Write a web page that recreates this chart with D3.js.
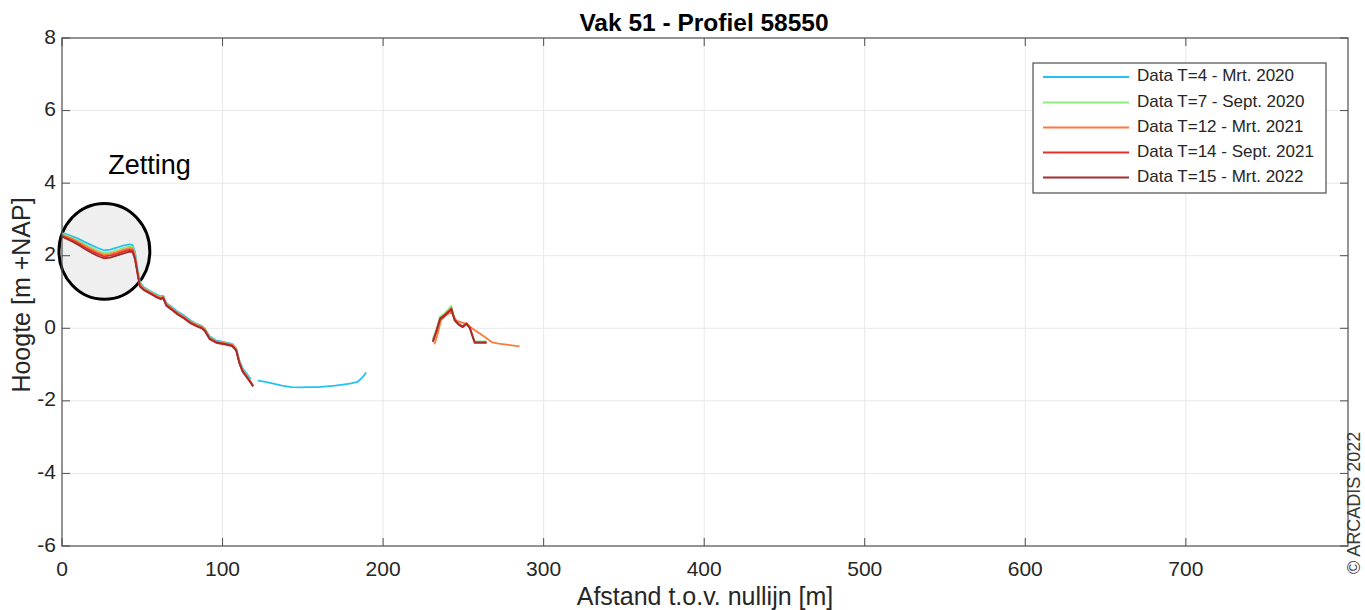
<!DOCTYPE html>
<html>
<head>
<meta charset="utf-8">
<script src="https://cdn.jsdelivr.net/npm/d3@7"></script>
<style>
  html, body { margin: 0; padding: 0; background: #fff; }
  svg { display: block; font-family: "Liberation Sans", Arial, sans-serif; }
</style>
</head>
<body>
<svg id="chart" width="1365" height="610"></svg>
<script>
// Profile measurements: distance from the zero line [m] and height [m +NAP].
// null marks a gap between measured stretches.
const xTicks = [0, 100, 200, 300, 400, 500, 600, 700];
const yTicks = [-6, -4, -2, 0, 2, 4, 6, 8];

const seriesNames = [
  "Data T=4 - Mrt. 2020",
  "Data T=7 - Sept. 2020",
  "Data T=12 - Mrt. 2021",
  "Data T=14 - Sept. 2021",
  "Data T=15 - Mrt. 2022"
];
const seriesColors = ["#22c3f3", "#8fea7f", "#fb7a3c", "#e2302a", "#a32c2c"];

// Dike section, shared distances
const dikeX = [0, 2, 6, 10, 14, 18, 22, 26, 30, 34, 38, 42, 44, 45.5, 47, 48.5, 51, 55, 59, 61.5, 63, 65, 68, 72, 76, 80, 84, 87, 89, 92, 96, 101, 106, 108.5, 110.5, 112.5, 115, 117.5, 119];

// T=4 (Mrt. 2020)
const t4X = dikeX.slice(0, 38).concat([null, 122, 126, 131, 137, 143, 148, 153, 159, 165, 170, 175, 180, 184, 187, 189.5]);
const t4Y = [2.62, 2.60, 2.54, 2.47, 2.38, 2.30, 2.22, 2.15, 2.17, 2.22, 2.28, 2.31, 2.29, 2.10, 1.66, 1.27, 1.13, 1.03, 0.93, 0.88, 0.90, 0.70, 0.60, 0.46, 0.35, 0.22, 0.12, 0.07, -0.01, -0.22, -0.33, -0.38, -0.43, -0.55, -0.88, -1.10, -1.25, -1.40,
  null, -1.44, -1.47, -1.52, -1.58, -1.62, -1.63, -1.62, -1.62, -1.60, -1.58, -1.55, -1.52, -1.48, -1.36, -1.22];

// T=7 (Sept. 2020)
const t7X = dikeX.concat([null, 231, 233, 235.5, 238, 241, 242.5, 244.5, 247, 249.5, 252, 254, 257, 261, 264.5]);
const t7Y = [2.60, 2.57, 2.50, 2.42, 2.32, 2.24, 2.15, 2.08, 2.10, 2.15, 2.21, 2.25, 2.24, 2.02, 1.60, 1.22, 1.10, 1.01, 0.90, 0.85, 0.88, 0.67, 0.57, 0.43, 0.32, 0.19, 0.10, 0.05, -0.03, -0.25, -0.36, -0.40, -0.45, -0.58, -0.92, -1.15, -1.30, -1.47, -1.62,
  null, -0.30, -0.04, 0.32, 0.40, 0.54, 0.62, 0.28, 0.15, 0.06, 0.15, 0.03, -0.36, -0.36, -0.36];

// T=12 (Mrt. 2021)
const t12X = dikeX.concat([null, 232, 234, 236, 239, 242.5, 245.5, 250, 252, 256, 260, 264, 268, 272, 277, 285]);
const t12Y = [2.57, 2.54, 2.47, 2.38, 2.28, 2.19, 2.10, 2.03, 2.05, 2.10, 2.16, 2.21, 2.20, 1.98, 1.57, 1.20, 1.09, 0.99, 0.89, 0.84, 0.87, 0.66, 0.56, 0.42, 0.31, 0.18, 0.09, 0.04, -0.04, -0.27, -0.37, -0.41, -0.46, -0.59, -0.93, -1.16, -1.31, -1.47, -1.57,
  null, -0.44, -0.16, 0.22, 0.35, 0.45, 0.21, 0.15, 0.11, -0.02, -0.14, -0.26, -0.39, -0.42, -0.45, -0.50];

// T=14 (Sept. 2021)
const t14X = dikeX.concat([null, 231, 233, 235.5, 238, 241, 242.5, 244.5, 247, 249.5, 252, 254, 257, 261, 264.5]);
const t14Y = [2.55, 2.51, 2.43, 2.34, 2.23, 2.14, 2.05, 1.98, 2.00, 2.05, 2.11, 2.16, 2.15, 1.93, 1.54, 1.17, 1.07, 0.97, 0.87, 0.82, 0.85, 0.64, 0.54, 0.40, 0.29, 0.16, 0.07, 0.02, -0.06, -0.28, -0.38, -0.42, -0.47, -0.60, -0.95, -1.18, -1.33, -1.49, -1.59,
  null, -0.35, -0.10, 0.28, 0.36, 0.48, 0.55, 0.25, 0.12, 0.05, 0.14, 0.02, -0.38, -0.38, -0.38];

// T=15 (Mrt. 2022)
const t15X = dikeX.concat([null, 231, 233, 235.5, 238, 241, 242.5, 244.5, 247, 249.5, 252, 254, 257, 261, 264.5]);
const t15Y = [2.53, 2.48, 2.40, 2.30, 2.19, 2.09, 2.00, 1.93, 1.95, 2.00, 2.06, 2.11, 2.10, 1.89, 1.51, 1.15, 1.05, 0.95, 0.85, 0.80, 0.83, 0.62, 0.52, 0.38, 0.27, 0.14, 0.05, 0.00, -0.08, -0.30, -0.40, -0.44, -0.49, -0.62, -0.97, -1.20, -1.35, -1.50, -1.60,
  null, -0.38, -0.12, 0.25, 0.33, 0.46, 0.52, 0.22, 0.10, 0.03, 0.12, 0.00, -0.40, -0.40, -0.40];

const seriesX = [t4X, t7X, t12X, t14X, t15X];
const seriesY = [t4Y, t7Y, t12Y, t14Y, t15Y];

// Settlement annotation (centre in data units)
const zettingCenter = [26.4, 2.12];
const zettingRadius = [28.3, 1.32];
const zettingLabel = "Zetting";
const zettingLabelPos = [54.5, 4.45];

const svg = d3.select("#chart");
const margin = { left: 62, top: 38, right: 1348, bottom: 546 };

const x = d3.scaleLinear().domain([0, 801]).range([margin.left, margin.right]);
const y = d3.scaleLinear().domain([-6, 8]).range([margin.bottom, margin.top]);

const axisColor = "#4d4d4d";
const textColor = "#262626";

// Grid
const grid = svg.append("g");
grid.selectAll("line.vx").data(xTicks.slice(1)).join("line")
  .attr("x1", d => x(d)).attr("x2", d => x(d))
  .attr("y1", margin.top).attr("y2", margin.bottom)
  .attr("stroke", "#e8e8e8").attr("stroke-width", 1);
grid.selectAll("line.hy").data(yTicks.slice(1, -1)).join("line")
  .attr("x1", margin.left).attr("x2", margin.right)
  .attr("y1", d => y(d)).attr("y2", d => y(d))
  .attr("stroke", "#e8e8e8").attr("stroke-width", 1);

// Annotation circle behind the data
svg.append("ellipse")
  .attr("cx", x(zettingCenter[0])).attr("cy", y(zettingCenter[1]))
  .attr("rx", x(zettingRadius[0]) - x(0)).attr("ry", y(0) - y(zettingRadius[1]))
  .attr("fill", "#efefef").attr("stroke", "#000").attr("stroke-width", 3);

svg.append("text")
  .attr("x", x(zettingLabelPos[0])).attr("y", y(zettingLabelPos[1]))
  .attr("text-anchor", "middle").attr("dominant-baseline", "middle")
  .attr("font-size", 27).attr("fill", "#000")
  .text(zettingLabel);

// Data lines
const line = d3.line()
  .defined(d => d[0] !== null && d[1] !== null)
  .x(d => x(d[0])).y(d => y(d[1]));

seriesX.forEach((xs, i) => {
  const pts = xs.map((v, k) => [v, seriesY[i][k]]);
  svg.append("path")
    .datum(pts)
    .attr("d", line)
    .attr("fill", "none")
    .attr("stroke", seriesColors[i])
    .attr("stroke-width", 1.8)
    .attr("stroke-linejoin", "round");
});

// Axes box with inward ticks on all sides
const axes = svg.append("g");
const tickLen = 8;
axes.append("rect")
  .attr("x", margin.left).attr("y", margin.top)
  .attr("width", margin.right - margin.left).attr("height", margin.bottom - margin.top)
  .attr("fill", "none").attr("stroke", axisColor).attr("stroke-width", 1.2);

xTicks.forEach(t => {
  axes.append("line").attr("x1", x(t)).attr("x2", x(t))
    .attr("y1", margin.bottom).attr("y2", margin.bottom - tickLen)
    .attr("stroke", axisColor);
  axes.append("line").attr("x1", x(t)).attr("x2", x(t))
    .attr("y1", margin.top).attr("y2", margin.top + tickLen)
    .attr("stroke", axisColor);
  axes.append("text")
    .attr("x", x(t)).attr("y", margin.bottom + 30)
    .attr("text-anchor", "middle").attr("font-size", 21).attr("fill", textColor)
    .text(d3.format("d")(t));
});

yTicks.forEach(t => {
  axes.append("line").attr("x1", margin.left).attr("x2", margin.left + tickLen)
    .attr("y1", y(t)).attr("y2", y(t)).attr("stroke", axisColor);
  axes.append("line").attr("x1", margin.right).attr("x2", margin.right - tickLen)
    .attr("y1", y(t)).attr("y2", y(t)).attr("stroke", axisColor);
  axes.append("text")
    .attr("x", margin.left - 6).attr("y", y(t))
    .attr("text-anchor", "end").attr("dominant-baseline", "middle")
    .attr("font-size", 21).attr("fill", textColor)
    .text(t);
});

// Titles
svg.append("text")
  .attr("x", 704).attr("y", 31)
  .attr("text-anchor", "middle").attr("font-size", 24.5).attr("font-weight", "bold")
  .attr("fill", "#000")
  .text("Vak 51 - Profiel 58550");

svg.append("text")
  .attr("x", 705).attr("y", 605)
  .attr("text-anchor", "middle").attr("font-size", 25).attr("fill", textColor)
  .text("Afstand t.o.v. nullijn [m]");

svg.append("text")
  .attr("transform", `translate(30, 295) rotate(-90)`)
  .attr("text-anchor", "middle").attr("font-size", 25).attr("fill", textColor)
  .text("Hoogte [m +NAP]");

svg.append("text")
  .attr("transform", "translate(1360, 574) rotate(-90)")
  .attr("text-anchor", "start").attr("font-size", 18).attr("fill", "#3a3a3a")
  .text("© ARCADIS 2022");

// Legend
const legend = svg.append("g");
legend.append("rect")
  .attr("x", 1033).attr("y", 63).attr("width", 293).attr("height", 130)
  .attr("fill", "#fff").attr("stroke", axisColor).attr("stroke-width", 1.2);
const legendRows = [77, 102.5, 127.5, 152.5, 177.5];
seriesNames.forEach((name, i) => {
  legend.append("line")
    .attr("x1", 1043).attr("x2", 1129)
    .attr("y1", legendRows[i]).attr("y2", legendRows[i])
    .attr("stroke", seriesColors[i]).attr("stroke-width", 1.8);
  legend.append("text")
    .attr("x", 1137).attr("y", legendRows[i])
    .attr("dominant-baseline", "middle")
    .attr("font-size", 17).attr("fill", textColor)
    .text(name);
});
</script>
</body>
</html>
